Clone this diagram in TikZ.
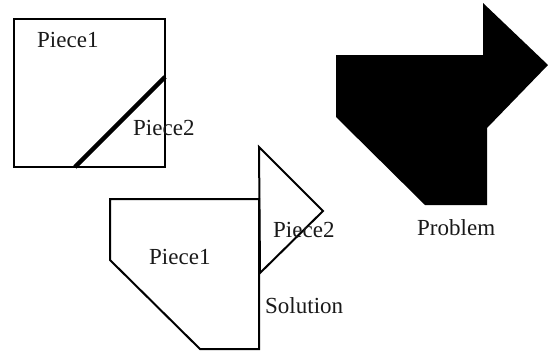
\documentclass[tikz,border=0pt]{standalone}
\usepackage{fontspec}
\setmainfont{Liberation Serif}
\begin{document}
\begin{tikzpicture}[x=1pt,y=-1pt,
  thinline/.style={draw=black,line width=2pt,line join=miter},
  thickline/.style={draw=black,line width=4.5pt},
  lbl/.style={anchor=base west,inner sep=0pt,font=\fontsize{23}{27}\selectfont,text=black!90}]
\useasboundingbox (0,0) rectangle (548,351);
% top-left square
\draw[thinline] (14,19) rectangle (165,167);
\draw[thickline] (75,167) -- (165,77);
\node[lbl] (p1a) at (37,47) {Piece1};
\node[lbl] (p2a) at (133,135) {Piece2};
% solution
\draw[thinline] (110,199) -- (259,199) -- (259,349) -- (200,349) -- (110,260) -- cycle;
\draw[thinline] (259,147) -- (323,211) -- (260,273) -- cycle;
\node[lbl] (p1b) at (149,264) {Piece1};
\node[lbl] (p2b) at (273,237) {Piece2};
\node[lbl] (sol) at (265,313) {Solution};
% problem
\fill[black] (336,55) -- (483,55) -- (483,3) -- (548,65) -- (487,128) -- (487,205) -- (425,205) -- (336,117) -- cycle;
\node[lbl] (prob) at (417,235) {Problem};
\end{tikzpicture}
\end{document}
